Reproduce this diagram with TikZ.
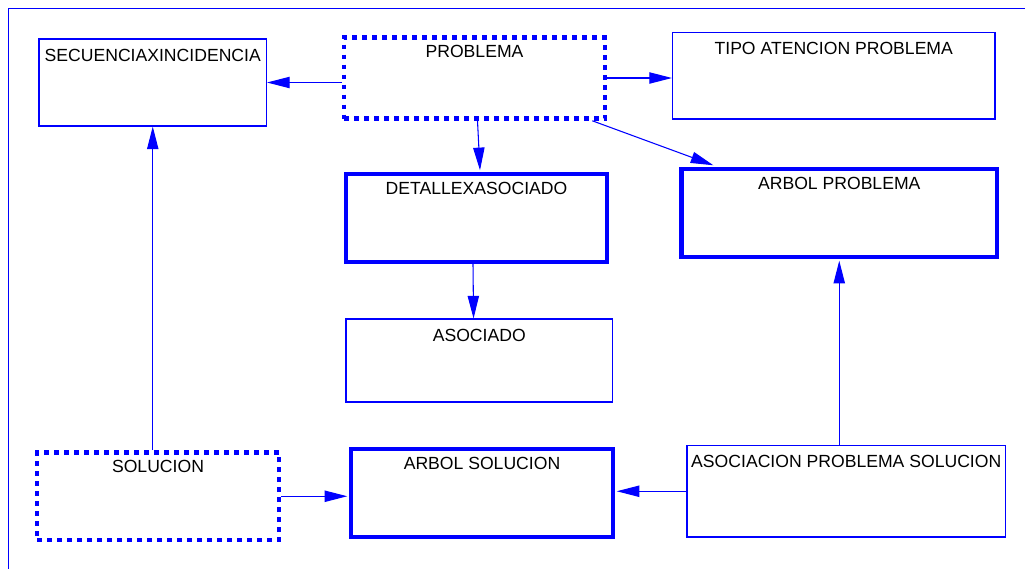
\documentclass[tikz,border=0pt]{standalone}
\usepackage{fontspec}
\setmainfont{Liberation Sans}
\usetikzlibrary{arrows.meta,fit,calc}
\definecolor{edge}{RGB}{0,0,255}
\begin{document}
\begin{tikzpicture}[x=0.75pt,y=-0.75pt,
  every label/.style={anchor=north,inner sep=0pt,yshift=-7.6pt,text=black,
    font=\fontsize{13.2}{15}\selectfont},
  entity/.style={draw=edge,line width=0.8pt,inner sep=0pt,fill=white},
  strongbox/.style={draw=edge,line width=3.2pt,inner sep=0pt,fill=white},
  weakbox/.style={draw=edge,line width=3.4pt,dash pattern=on 3.4pt off 4.1pt,inner sep=0pt,fill=white},
  link/.style={draw=edge,line width=0.8pt,-{Triangle[length=17pt,width=8.5pt]}}]
  \useasboundingbox (0,0) rectangle (1025,568);
  \fill[white] (0,0) rectangle (1025,568);
  % outer frame
  \draw[edge,line width=0.9pt] (8.3,8.5) rectangle (1040,590);

  % tables
  \node[entity,fit={(39,39) (266.5,126)},label={north:SECUENCIAXINCIDENCIA}] (secu) {};
  \node[weakbox,fit={(344,37.5) (605,118.5)},label={north:PROBLEMA}] (prob) {};
  \node[entity,fit={(672.5,32.5) (995,119)},label={north:TIPO ATENCION PROBLEMA}] (tipo) {};
  \node[strongbox,fit={(346,174) (607,262)},label={north:DETALLEXASOCIADO}] (deta) {};
  \node[strongbox,fit={(681.5,169) (997,257)},label={north:ARBOL PROBLEMA}] (arbp) {};
  \node[entity,fit={(346,319) (612.5,402)},label={north:ASOCIADO}] (asoc) {};
  \node[weakbox,fit={(37,452.5) (279,540)},label={north:SOLUCION}] (solu) {};
  \node[strongbox,fit={(351,449) (613,537)},label={north:ARBOL SOLUCION}] (arbs) {};
  \node[entity,fit={(687,445.5) (1005.5,537)},label={north:ASOCIACION PROBLEMA SOLUCION}] (asps) {};

  % relations
  \draw[link] (prob.west |- secu.east) -- (secu.east);
  \draw[link] (prob.east) -- (tipo.west |- prob.east);
  \draw[link] ($(prob.south)+(3,0)$) -- ($(deta.north)+(3.5,-1.6)$);
  \draw[link] ($(prob.south east)+(-15,0)$) -- ($(arbp.north west)+(34,-1.6)$);
  \draw[link] ($(deta.south)+(-3.5,0)$) -- ($(asoc.north)+(-5.7,0)$);
  \draw[link] (solu.north -| secu.south) -- (secu.south);
  \draw[link] (solu.east) -- ($(arbs.west |- solu.east)+(-1.6,0)$);
  \draw[link] (asps.west) -- ($(arbs.east |- asps.west)+(1.6,0)$);
  \draw[link] (arbp.south |- asps.north) -- ($(arbp.south)+(0,1.6)$);
\end{tikzpicture}
\end{document}
